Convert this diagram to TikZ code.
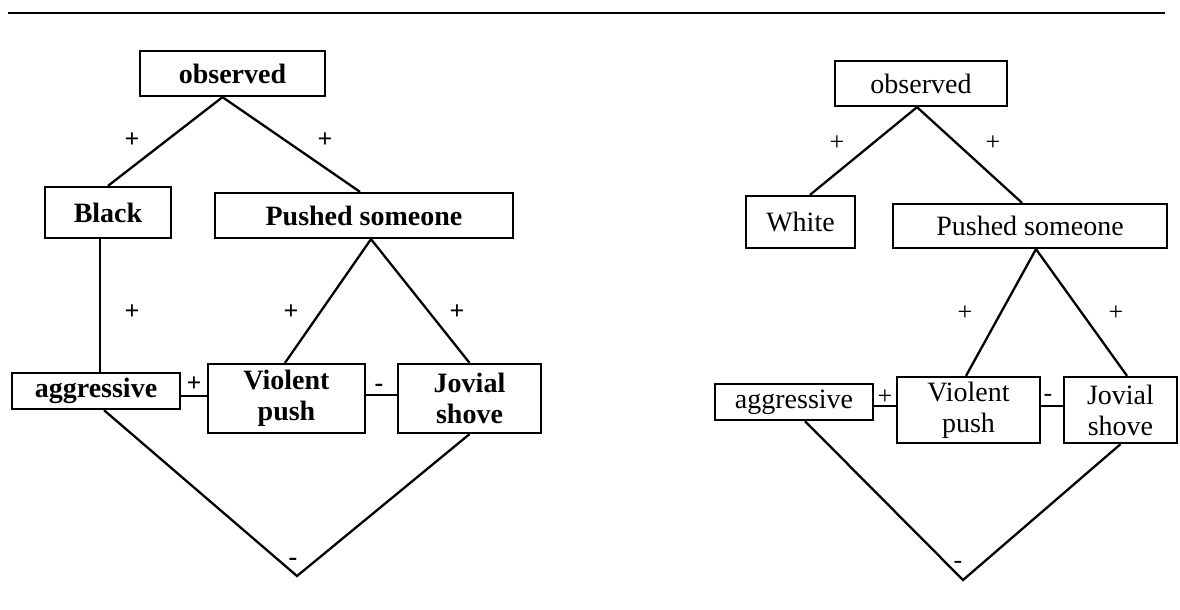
\documentclass[tikz,border=0pt]{standalone}
\usepackage{fontspec}
\setmainfont{Liberation Serif}
\usetikzlibrary{calc}
\begin{document}
\begin{tikzpicture}[x=1pt,y=-1pt,
  box/.style={draw,line width=2.3pt,inner sep=0pt,align=center},
  wh/.style 2 args={minimum width=#1pt,minimum height=#2pt},
  lbox/.style={box,font=\fontsize{28}{31}\selectfont\bfseries},
  rbox/.style={box,font=\fontsize{28}{31}\selectfont},
  link/.style={line width=2.3pt},
  lsign/.style={inner sep=0pt,font=\fontsize{26}{26}\selectfont\bfseries},
  rsign/.style={inner sep=0pt,font=\fontsize{26}{26}\selectfont}]
\useasboundingbox (0,0) rectangle (1180,610);
\fill[white] (0,0) rectangle (1180,610);
% page rule
\draw[line width=2.8pt] (8,13) -- (1165,13);

% ---------- left diagram ----------
\node[lbox,wh={185}{45}] (obsL) at (232.5,73.5) {observed};
\node[lbox,wh={126}{51}] (blackL) at (108,212.5) {Black};
\node[lbox,wh={298}{45}] (pushL) at (364,215.5) {Pushed someone};
\node[lbox,wh={168}{36}] (aggL) at (96,391) {aggressive};
\node[lbox,wh={157}{69}] (violL) at (286.5,398.5) {Violent\\push};
\node[lbox,wh={143}{69}] (jovL) at (469.5,398.5) {Jovial\\shove};
\coordinate (vL) at (297,576);

\draw[link] ([xshift=-10pt]obsL.south) -- (blackL.north);
\draw[link] ([xshift=-10pt]obsL.south) -- ([xshift=-4pt]pushL.north);
\draw[link] ([xshift=-8pt]blackL.south) -- ([xshift=4pt]aggL.north);
\draw[link] ([xshift=7pt]pushL.south) -- ([xshift=-1.5pt]violL.north);
\draw[link] ([xshift=7pt]pushL.south) -- (jovL.north);
\draw[link] ([yshift=-5pt]aggL.east) -- ([yshift=2.5pt]violL.west);
\draw[link] ([yshift=3.5pt]violL.east) -- ([yshift=3.5pt]jovL.west);
\draw[link] ([xshift=8pt]aggL.south) -- (vL) -- (jovL.south);

\node[lsign] (sL1) at (132,140) {+};
\node[lsign] (sL2) at (325,140) {+};
\node[lsign] (sL3) at (132,312) {+};
\node[lsign] (sL4) at (291,312) {+};
\node[lsign] (sL5) at (457,312) {+};
\node[lsign] (sL6) at (194,384) {+};
\node[lsign] (sL7) at (379,388) {-};
\node[lsign] (sL8) at (293,562) {-};

% ---------- right diagram ----------
\node[rbox,wh={172}{45}] (obsR) at (921,83.5) {observed};
\node[rbox,wh={109}{52}] (whiteR) at (800.5,222) {White};
\node[rbox,wh={274}{44}] (pushR) at (1030,226) {Pushed someone};
\node[rbox,wh={158}{36}] (aggR) at (794,402) {aggressive};
\node[rbox,wh={143}{66}] (violR) at (968.5,410) {Violent\\push};
\node[rbox,wh={113}{66}] (jovR) at (1120.5,410) {Jovial\\shove};
\coordinate (vR) at (963,580);

\draw[link] ([xshift=-4pt]obsR.south) -- ([xshift=9.5pt]whiteR.north);
\draw[link] ([xshift=-4pt]obsR.south) -- ([xshift=-8pt]pushR.north);
\draw[link] ([xshift=6pt]pushR.south) -- ([xshift=-2.5pt]violR.north);
\draw[link] ([xshift=6pt]pushR.south) -- ([xshift=6.5pt]jovR.north);
\draw[link] ([yshift=-4pt]aggR.east) -- ([yshift=4pt]violR.west);
\draw[link] ([yshift=4pt]violR.east) -- ([yshift=4pt]jovR.west);
\draw[link] ([xshift=11pt]aggR.south) -- (vR) -- (jovR.south);

\node[rsign] (sR1) at (837,143) {+};
\node[rsign] (sR2) at (993,143) {+};
\node[rsign] (sR3) at (965,313) {+};
\node[rsign] (sR4) at (1116,313) {+};
\node[rsign] (sR5) at (885,397) {+};
\node[rsign] (sR6) at (1048,398) {-};
\node[rsign] (sR7) at (958,565) {-};
\end{tikzpicture}
\end{document}
